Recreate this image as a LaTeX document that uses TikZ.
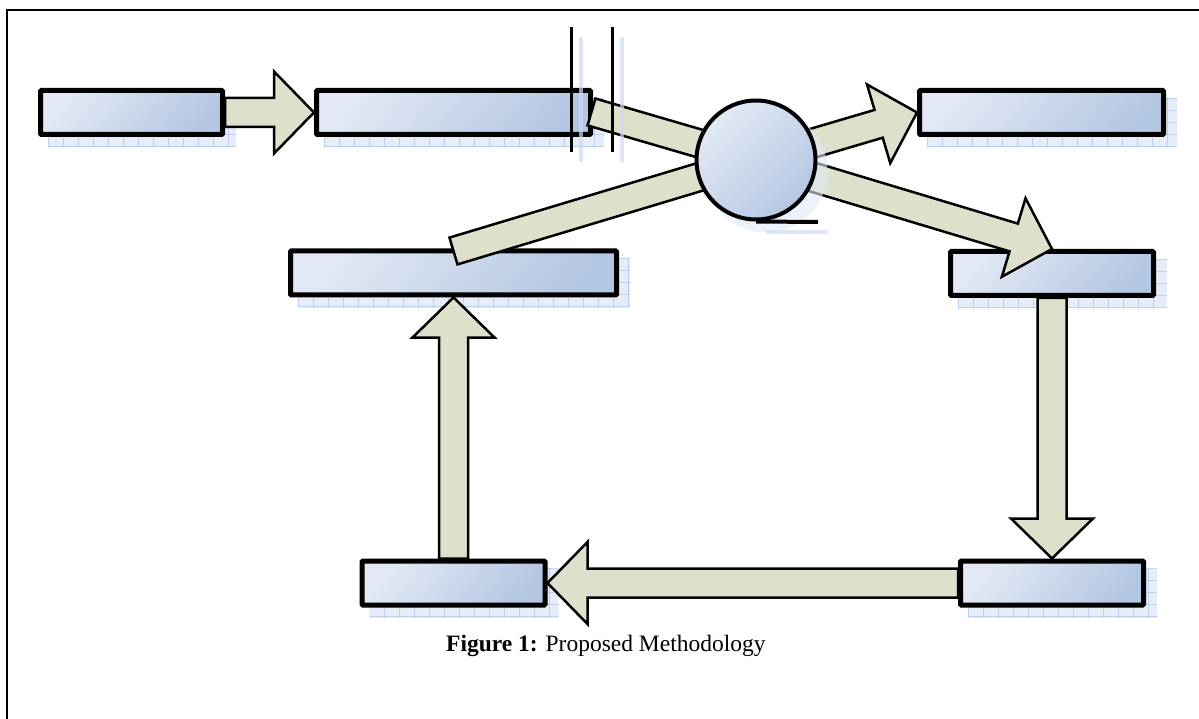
\documentclass[tikz,border=0pt]{standalone}
\usepackage{fontspec}
\setmainfont{Liberation Serif}
\usetikzlibrary{calc,backgrounds}
\definecolor{boxlight}{RGB}{226,233,245}
\definecolor{boxdark}{RGB}{180,199,226}
\definecolor{arrowfill}{RGB}{221,225,203}
\definecolor{shadefill}{RGB}{224,233,247}
\definecolor{shadeline}{RGB}{165,190,232}

\tikzset{
  procbox/.style={draw=black, line width=5pt, rounded corners=1pt, top color=boxlight, bottom color=boxdark, shading angle=50, minimum height=44pt, inner sep=0pt},
  fatarrow/.style={draw=black, line width=2.5pt, fill=arrowfill, line join=miter},
  hub/.style={circle, draw=black, line width=4pt, top color=boxlight, bottom color=boxdark, shading angle=45, minimum size=119pt, inner sep=0pt},
  ghost/.style={fill=shadefill, opacity=0.8},
  ghostline/.style={draw=shadeline, line width=0.6pt, opacity=0.6},
  ghoststroke/.style={draw=shadefill!70!shadeline, line width=4pt, opacity=0.7},
  rulestroke/.style={draw=black, line width=3pt},
  framestroke/.style={draw=black, line width=2pt}
}

\newcommand{\blockarrow}[2]{%
  \coordinate (hb) at ($(#2)!40pt!(#1)$);
  \draw[fatarrow] ($(#1)!14.5pt!90:(#2)$) -- ($(hb)!14.5pt!-90:(#1)$) -- ($(hb)!41pt!-90:(#1)$) -- (#2) -- ($(hb)!41pt!90:(#1)$) -- ($(hb)!14.5pt!90:(#1)$) -- ($(#1)!14.5pt!-90:(#2)$) -- cycle;}

\newcommand{\plainbar}[2]{%
  \draw[fatarrow] ($(#1)!14pt!90:(#2)$) -- ($(#2)!14pt!-90:(#1)$) -- ($(#2)!14pt!90:(#1)$) -- ($(#1)!14pt!-90:(#2)$) -- cycle;}

\newcommand{\boxghost}[1]{%
  \begin{scope}
    \clip ($(#1.north west)+(10,10)$) rectangle ($(#1.south east)+(11,10)$);
    \fill[ghost] ($(#1.north west)+(10,10)$) rectangle ($(#1.south east)+(11,10)$);
    \foreach \k in {0,...,25} \draw[ghostline] ($(#1.north west)+(10+15*\k,0)$) -- ++(0,200);
    \foreach \k in {0,...,4} \draw[ghostline] ($(#1.north west)+(0,10+12*\k)$) -- ++(400,0);
  \end{scope}}

\begin{document}
\begin{tikzpicture}[x=1pt,y=-1pt]
\useasboundingbox (0,0) rectangle (1199,719);

% frame (only top and left edges are visible)
\coordinate (fbl) at (7,730);
\coordinate (ftl) at (7,10);
\coordinate (ftr) at (1210,10);
\draw[framestroke] (fbl) -- (ftl) -- (ftr);

% boxes
\node[procbox, minimum width=182pt] (b1) at (131.5,112.5) {};
\node[procbox, minimum width=274pt] (b2) at (453.5,112.5) {};
\node[procbox, minimum width=244pt] (b3) at (1041.5,112.5) {};
\node[procbox, minimum width=203pt] (b4) at (1052,273.5) {};
\node[procbox, minimum width=326pt] (b5) at (453.5,273) {};
\node[procbox, minimum width=183pt] (b6) at (453.5,583) {};
\node[procbox, minimum width=183pt] (b7) at (1052,583) {};

\begin{pgfonlayer}{background}
  \boxghost{b1}\boxghost{b2}\boxghost{b3}\boxghost{b4}\boxghost{b5}\boxghost{b6}\boxghost{b7}
\end{pgfonlayer}

% hub centre and bar ends
\coordinate (cc) at (756,160);
\coordinate (a2s) at (591.5,112);
\coordinate (a3s) at (453.5,251);

% connectors
\blockarrow{b1.east}{b2.west}
\plainbar{a2s}{cc}
\plainbar{a3s}{cc}
\blockarrow{cc}{b3.west}
\blockarrow{cc}{b4.north}
\blockarrow{b4.south}{b7.north}
\blockarrow{b7.west}{b6.east}
\blockarrow{b6.north}{b5.south}

% hub shadow
\fill[ghost, opacity=0.6] ($(cc)+(10,11)$) circle[radius=61.5pt];
\coordinate (ul) at (818,222);
\draw[ghoststroke] ($(cc)+(10,72)$) -- ($(ul)+(10,10)$);

% hub
\node[hub] (c) at (cc) {};
\draw[line width=4pt] (c.south) -- (ul);

% vertical rules and their shadows
\coordinate (v1t) at (571,27);
\coordinate (v1b) at (571,152);
\coordinate (v2t) at (612,27);
\coordinate (v2b) at (612,152);
\draw[ghoststroke] ($(v1t)+(10,10)$) -- ($(v1b)+(10,10)$);
\draw[ghoststroke] ($(v2t)+(10,10)$) -- ($(v2b)+(10,10)$);
\draw[rulestroke] (v1t) -- (v1b);
\draw[rulestroke] (v2t) -- (v2b);

% caption
\node[anchor=base west, inner sep=0pt, font=\fontsize{23.5}{28}\selectfont] (cap) at (446,651) {\textbf{Figure 1:} Proposed Methodology};
\end{tikzpicture}
\end{document}
